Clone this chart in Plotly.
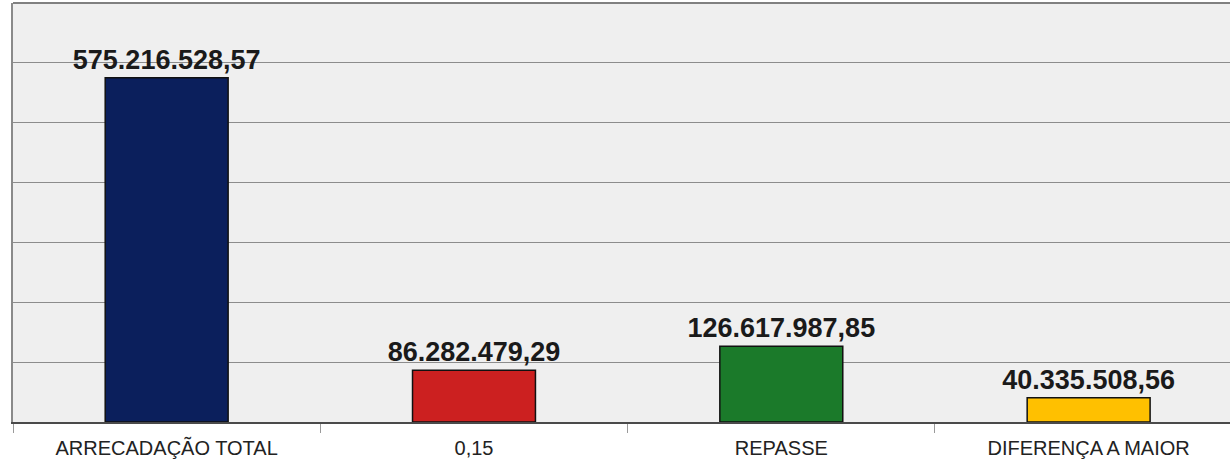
"""Arrecadação x repasse — bar chart."""

import plotly.graph_objects as go

CATEGORIES = ["ARRECADAÇÃO TOTAL", "0,15", "REPASSE", "DIFERENÇA A MAIOR"]
VALUES = [575216528.57, 86282479.29, 126617987.85, 40335508.56]
LABELS = ["575.216.528,57", "86.282.479,29", "126.617.987,85", "40.335.508,56"]
COLORS = ["#0b1f5c", "#cc2020", "#1b7a2a", "#ffc000"]

fig = go.Figure(
    go.Bar(
        x=CATEGORIES,
        y=VALUES,
        text=LABELS,
        textposition="outside",
        constraintext="none",
        cliponaxis=False,
        textfont=dict(family="Liberation Sans", size=27, color="#1a1a1a", weight="bold"),
        marker=dict(color=COLORS, line=dict(color="#111111", width=1.5)),
        width=0.4,
        hoverinfo="skip",
    )
)

fig.update_layout(
    width=1230,
    height=462,
    margin=dict(l=13, r=0, t=3, b=40),
    paper_bgcolor="white",
    plot_bgcolor="#efefef",
    showlegend=False,
    font=dict(family="Liberation Sans", color="#222222"),
    xaxis=dict(
        range=[-0.5, 3.46],
        tickson="boundaries",
        ticks="outside",
        ticklen=9,
        tickcolor="#9a9a9a",
        tickwidth=1,
        showline=True,
        linecolor="#4a4a4a",
        linewidth=2,
        showgrid=False,
        tickfont=dict(size=20, color="#222222"),
        ticklabelstandoff=7,
    ),
    yaxis=dict(
        range=[0, 7e8],
        dtick=1e8,
        showticklabels=False,
        showgrid=True,
        gridcolor="#8c8c8c",
        gridwidth=1,
        showline=True,
        linecolor="#8a8a8a",
        linewidth=2,
        zeroline=False,
    ),
    shapes=[
        dict(
            type="line", xref="paper", yref="paper", x0=0, x1=1, y0=1, y1=1,
            line=dict(color="#808080", width=2),
        )
    ],
)

# drop the default page margin so the chart sits at the window's corner
fig.write_html(
    "out.html",
    config={"displayModeBar": False},
    post_script="document.body.style.margin='0';",
)
